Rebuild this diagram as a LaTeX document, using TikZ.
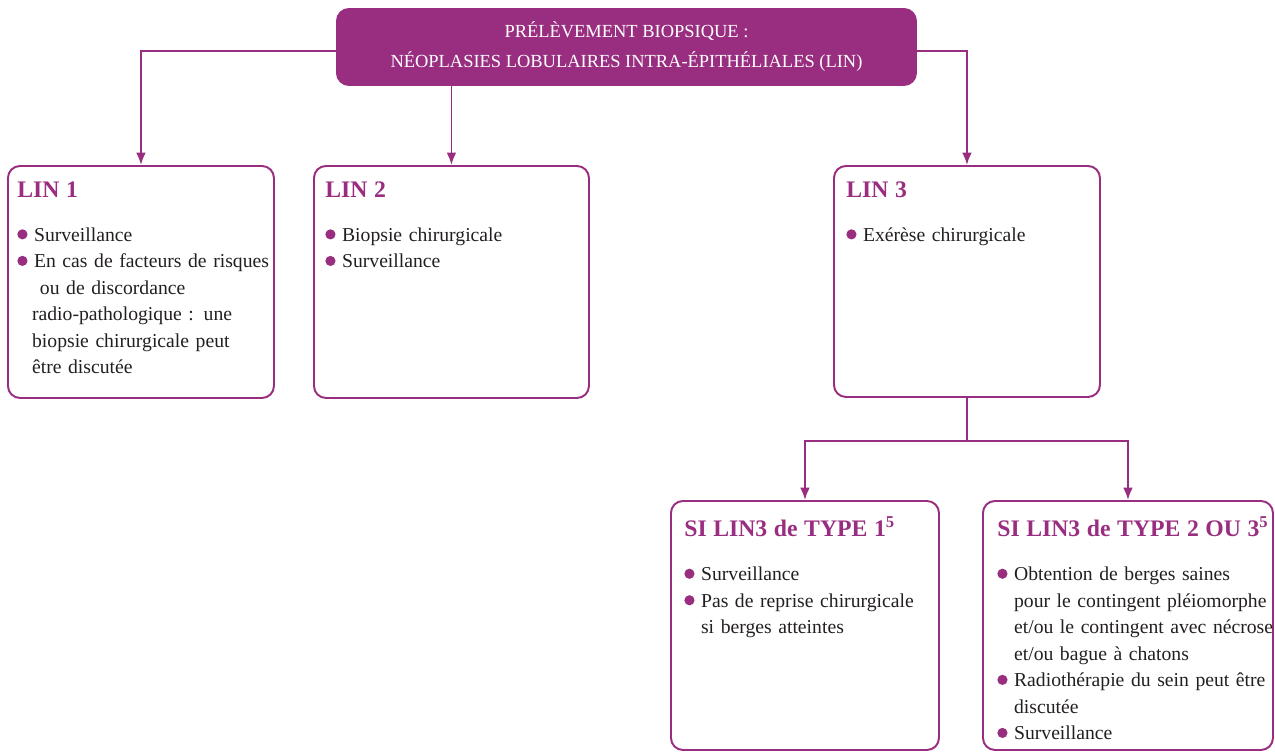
\documentclass[tikz,border=0pt]{standalone}
\usepackage{fontspec}
\setmainfont{Liberation Serif}
\usetikzlibrary{arrows.meta}
\definecolor{lin}{HTML}{992E80}
\definecolor{encre}{HTML}{231F20}

\newcommand\puce{\par\hangindent=0.85em\hangafter=1\noindent
  \makebox[0.85em][l]{\tikz[baseline=-0.75ex]\fill[lin] (0,0) circle (2.9pt);}}
\newcommand\titre[1]{\noindent{\fontsize{13.5}{16}\selectfont\bfseries\textcolor{lin}{#1}}\par\vspace{10pt}}

\begin{document}
\begin{tikzpicture}[x=0.02cm,y=-0.02cm,
    boite/.style={draw=lin,line width=1.1pt,rounded corners=0.24cm,anchor=north west,inner sep=0pt},
    texte/.style={anchor=north west,inner sep=0pt,align=left,text=encre,
      text width=300*0.02cm,font=\fontsize{11.2}{15.1}\selectfont},
    fleche/.style={draw=lin,line width=1.1pt,-{Latex[length=7pt,width=5.5pt]}}]
  \useasboundingbox (0,0) rectangle (1275,752);

  \node[boite,fill=lin,text=white,align=center,font=\fontsize{10.5}{17}\selectfont,
    minimum width=579*0.02cm,minimum height=76*0.02cm] (titre) at (336,8)
    {PRÉLÈVEMENT BIOPSIQUE :\\NÉOPLASIES LOBULAIRES INTRA-ÉPITHÉLIALES (LIN)};

  % niveau 1
  \node[boite,minimum width=266*0.02cm,minimum height=232*0.02cm] (lin1) at (7,165) {};
  \node[boite,minimum width=275*0.02cm,minimum height=232*0.02cm] (lin2) at (313,165) {};
  \node[boite,minimum width=266*0.02cm,minimum height=231*0.02cm] (lin3) at (833,165) {};
  % niveau 2
  \node[boite,minimum width=268*0.02cm,minimum height=249*0.02cm] (type1) at (670,500) {};
  \node[boite,minimum width=290*0.02cm,minimum height=249*0.02cm] (type23) at (982,500) {};

  \node[texte] (lin1txt) at (17,181) {\titre{LIN 1}\puce Surveillance
    \puce En cas de facteurs de risques\newline\hspace*{0.3em}ou de discordance\newline\hspace*{-0.1em}radio-pathologique : une\newline\hspace*{-0.1em}biopsie chirurgicale peut\newline\hspace*{-0.1em}être discutée\par};
  \node[texte] (lin2txt) at (325,181) {\titre{LIN 2}\puce Biopsie chirurgicale\puce Surveillance\par};
  \node[texte] (lin3txt) at (846,181) {\titre{LIN 3}\puce Exérèse chirurgicale\par};
  \node[texte] (type1txt) at (684,516) {\titre{SI LIN3 de TYPE 1\textsuperscript{5}}\puce Surveillance
    \puce Pas de reprise chirurgicale\newline si berges atteintes\par};
  \node[texte] (type23txt) at (997,516) {\titre{SI LIN3 de TYPE 2 OU 3\textsuperscript{5}}
    \puce Obtention de berges saines\newline pour le contingent pléiomorphe\newline et/ou le contingent avec nécrose\newline et/ou bague à chatons
    \puce Radiothérapie du sein peut être\newline discutée\puce Surveillance\par};

  \draw[fleche] ([yshift=-0.08cm]titre.west) -| (lin1.north);
  \draw[fleche] (titre.south -| lin2.north) -- (lin2.north);
  \draw[fleche] ([yshift=-0.08cm]titre.east) -| (lin3.north);
  \coordinate (bif) at (lin3.south |- 0,441);
  \draw[draw=lin,line width=1.1pt] (lin3.south) -- (bif);
  \draw[fleche] (bif) -| (type1.north);
  \draw[fleche] (bif) -| (type23.north);
\end{tikzpicture}
\end{document}
